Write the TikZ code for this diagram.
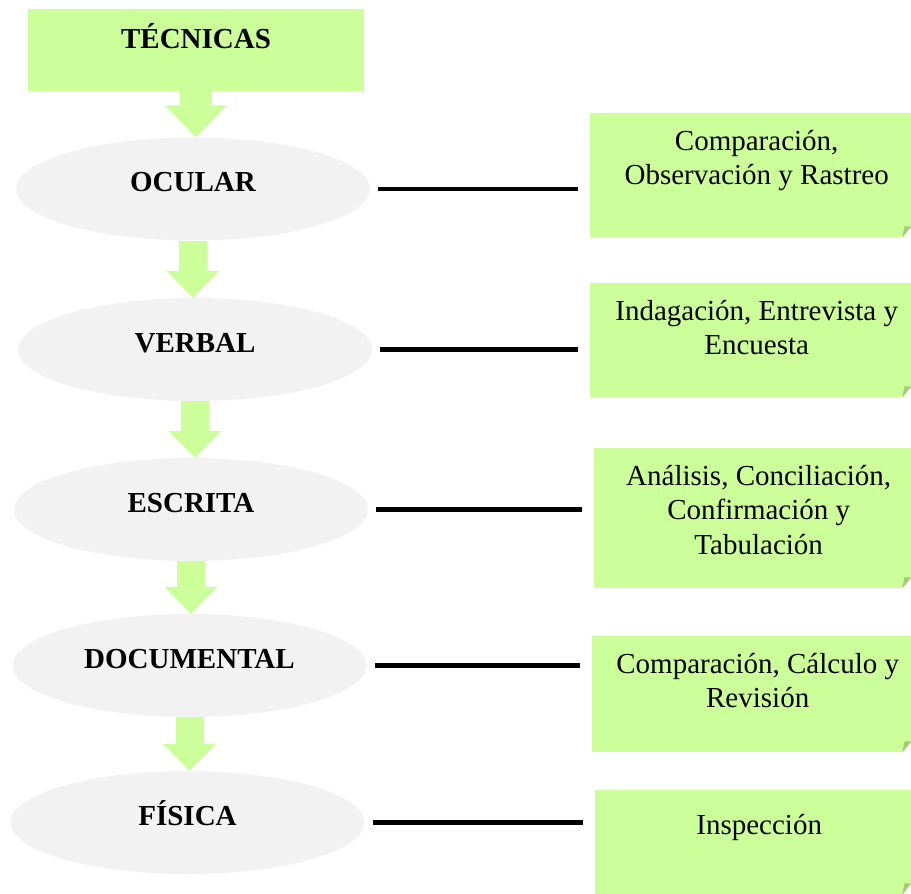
\documentclass[tikz,border=0pt]{standalone}
\usepackage{fontspec}
\setmainfont{Liberation Serif}
\definecolor{notegreen}{HTML}{CCFF99}
\definecolor{folddark}{HTML}{A3CC7A}
\definecolor{ovalgray}{HTML}{F2F2F2}
\usetikzlibrary{shapes.geometric, arrows.meta, calc}
\newcommand{\tfont}{\fontsize{29}{34.5}\selectfont}
\newcommand{\notefold}[1]{\fill[white] (#1.south east) -- ++(-9,0) -- ++(9,-11) -- cycle;
\fill[folddark] ($(#1.south east)+(-9,0)$) -- ++(9,-11) -- ++(-7,0) -- cycle;}

\begin{document}
\begin{tikzpicture}[x=1pt, y=-1pt,
  tecnica/.style={ellipse, fill=ovalgray, minimum width=354pt, minimum height=103pt, font=\tfont\bfseries, text height=20pt, text depth=15pt},
  flow/.style={draw=notegreen, line width=28pt, -{Triangle[length=27pt, width=53pt, line width=0pt]}},
  link/.style={line width=4.5pt, shorten <=8pt, shorten >=12pt},
  notebox/.style={rectangle, fill=notegreen, anchor=north west, minimum width=321pt, inner sep=0pt},
  notetext/.style={anchor=north, align=center, inner sep=0pt, font=\tfont, xshift=6pt, yshift=-17pt}]
\useasboundingbox (0,0) rectangle (911,894);
\node[rectangle, fill=notegreen, minimum width=336pt, minimum height=82pt, font=\tfont\bfseries, text height=20pt, text depth=23pt] (tec) at (196,50) {TÉCNICAS};
\node[tecnica] (ocu) at (193,189) {OCULAR};
\node[tecnica] (ver) at (195,349.5) {VERBAL};
\node[tecnica] (esc) at (191,509.5) {ESCRITA};
\node[tecnica] (doc) at (189.5,665.5) {DOCUMENTAL};
\node[tecnica] (fis) at (187.5,822.5) {FÍSICA};
\draw[flow, line width=32pt, -{Triangle[length=32pt, width=62pt, line width=0pt]}] (tec.south) -- (tec.south |- ocu.north);
\foreach \a/\b in {ocu/ver, ver/esc, esc/doc, doc/fis}
  \draw[flow] (\a.south) -- (\a.south |- \b.north);
\node[notebox, minimum height=124pt, label={[notetext]north:{Comparación,\\Observación y Rastreo}}] (cor) at (590,113) {};
\node[notebox, minimum height=114pt, label={[notetext]north:{Indagación, Entrevista y\\Encuesta}}] (iee) at (590,283) {};
\node[notebox, minimum width=317pt, minimum height=140pt, label={[notetext]north:{Análisis, Conciliación,\\Confirmación y\\Tabulación}}] (act) at (594,448) {};
\node[notebox, minimum width=319pt, minimum height=116pt, label={[notetext]north:{Comparación, Cálculo y\\Revisión}}] (ccr) at (592,636) {};
\node[notebox, minimum width=316pt, minimum height=104pt, label={[notetext, yshift=-7pt]north:{Inspección}}] (ins) at (595,790) {};
\foreach \e/\n in {ocu/cor, ver/iee, esc/act, doc/ccr, fis/ins}
  \draw[link] (\e.east) -- (\e.east -| \n.west);
\foreach \n in {cor, iee, act, ccr, ins} {\notefold{\n}}
\end{tikzpicture}
\end{document}
